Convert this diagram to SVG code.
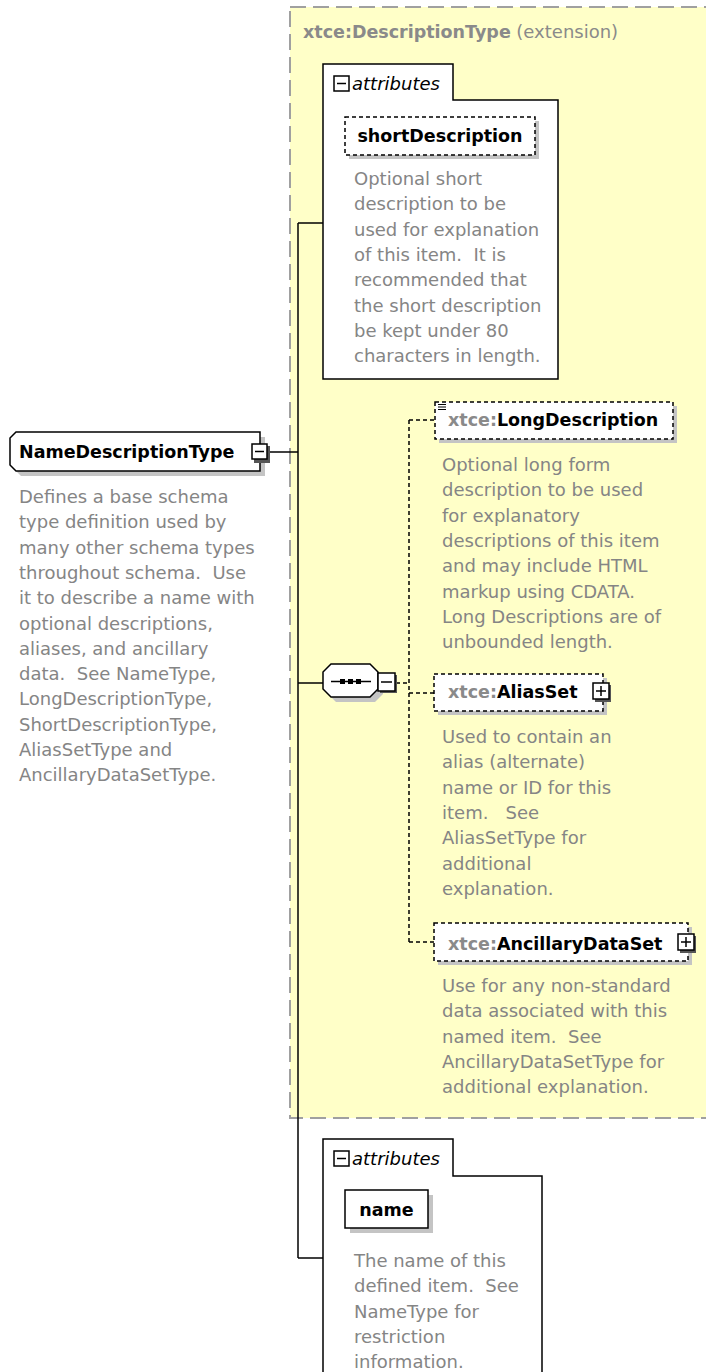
<svg xmlns="http://www.w3.org/2000/svg" width="706" height="1372" viewBox="0 0 706 1372">
  <style>
    .desc { font-family: "DejaVu Sans", Verdana, sans-serif; font-size: 18px; fill: #858585; white-space: pre; }
    .lbl { font-family: "DejaVu Sans", Verdana, sans-serif; font-weight: bold; font-size: 17.5px; fill: #000; }
    .pfx { fill: #8a8a8a; }
    .ttl { font-family: "DejaVu Sans", Verdana, sans-serif; font-size: 17.5px; fill: #8a8a8a; }
    .attr { font-family: "DejaVu Sans", Verdana, sans-serif; font-style: italic; font-size: 18px; fill: #000; }
    .box { fill: #fff; stroke: #000; stroke-width: 1.5; }
    .dbox { fill: #fff; stroke: #000; stroke-width: 1.5; stroke-dasharray: 4 3; }
    .shadow { fill: #c4c4c4; }
    .conn { stroke: #000; stroke-width: 1.5; fill: none; }
    .dconn { stroke: #000; stroke-width: 1.5; fill: none; stroke-dasharray: 4 3; }
    .icon { fill: #fff; stroke: #000; stroke-width: 1.5; }
  </style>
  <defs>
    <g id="minus">
      <rect class="icon" x="0" y="0" width="15" height="15"/>
      <line x1="3" y1="7.5" x2="12" y2="7.5" stroke="#000" stroke-width="1.5"/>
    </g>
    <g id="plus">
      <rect class="icon" x="0" y="0" width="16" height="16"/>
      <line x1="3" y1="8" x2="13" y2="8" stroke="#000" stroke-width="1.5"/>
      <line x1="8" y1="3" x2="8" y2="13" stroke="#000" stroke-width="1.5"/>
    </g>
  </defs>

  <!-- extension region -->
  <g id="extension">
    <rect x="290" y="7" width="440" height="1111" fill="#ffffc8" stroke="#a0a0a0" stroke-width="2" stroke-dasharray="16 7"/>
    <text x="303" y="38" class="ttl"><tspan font-weight="bold">xtce:DescriptionType</tspan> <tspan font-size="18px">(extension)</tspan></text>
  </g>

  <!-- connectors -->
  <g id="connectors">
    <line class="conn" x1="268" y1="452" x2="298" y2="452"/>
    <line class="conn" x1="298" y1="223" x2="298" y2="1258"/>
    <line class="conn" x1="298" y1="223" x2="323" y2="223"/>
    <line class="conn" x1="298" y1="683" x2="323" y2="683"/>
    <line class="conn" x1="298" y1="1258" x2="323" y2="1258"/>
    <line class="dconn" x1="396" y1="683" x2="409" y2="683"/>
    <line class="dconn" x1="409" y1="420" x2="409" y2="942"/>
    <line class="dconn" x1="409" y1="420" x2="435" y2="420"/>
    <line class="dconn" x1="409" y1="693" x2="434" y2="693"/>
    <line class="dconn" x1="409" y1="942" x2="434" y2="942"/>
  </g>

  <!-- NameDescriptionType -->
  <g id="NameDescriptionType">
    <polygon class="shadow" points="21,437 265,437 265,476 21,476 15,470 15,443"/>
    <polygon class="box" points="16,432 260,432 260,471 16,471 10,465 10,438"/>
    <text x="19" y="458" class="lbl">NameDescriptionType</text>
    <rect x="254" y="446" width="16" height="17" fill="#555"/>
    <use href="#minus" x="252" y="444"/>
    <text class="desc" x="19">
      <tspan x="19" y="503">Defines a base schema</tspan>
      <tspan x="19" y="528.3">type definition used by</tspan>
      <tspan x="19" y="553.6">many other schema types</tspan>
      <tspan x="19" y="578.9">throughout schema.  Use</tspan>
      <tspan x="19" y="604.2">it to describe a name with</tspan>
      <tspan x="19" y="629.5">optional descriptions,</tspan>
      <tspan x="19" y="654.8">aliases, and ancillary</tspan>
      <tspan x="19" y="680.1">data.  See NameType,</tspan>
      <tspan x="19" y="705.4">LongDescriptionType,</tspan>
      <tspan x="19" y="730.7">ShortDescriptionType,</tspan>
      <tspan x="19" y="756">AliasSetType and</tspan>
      <tspan x="19" y="781.3">AncillaryDataSetType.</tspan>
    </text>
  </g>

  <!-- attribute group of the extension -->
  <g id="attributes-ext">
    <path class="box" d="M323,64 H453 V100 H558 V379 H323 Z"/>
    <use href="#minus" x="334" y="76"/>
    <text x="352" y="90" class="attr">attributes</text>
  </g>

  <g id="shortDescription">
    <rect class="shadow" x="349" y="121" width="190" height="38"/>
    <rect class="dbox" x="345" y="117" width="190" height="38"/>
    <text x="440" y="142" class="lbl" text-anchor="middle">shortDescription</text>
    <text class="desc">
      <tspan x="354" y="185">Optional short</tspan>
      <tspan x="354" y="210.3">description to be</tspan>
      <tspan x="354" y="235.6">used for explanation</tspan>
      <tspan x="354" y="260.9">of this item.  It is</tspan>
      <tspan x="354" y="286.2">recommended that</tspan>
      <tspan x="354" y="311.5">the short description</tspan>
      <tspan x="354" y="336.8">be kept under 80</tspan>
      <tspan x="354" y="362.1">characters in length.</tspan>
    </text>
  </g>

  <!-- sequence compositor -->
  <g id="sequence">
    <polygon class="shadow" points="336,669 375,669 383,677 383,694 375,702 336,702 328,694 328,677"/>
    <polygon class="box" points="331,664 370,664 378,672 378,689 370,697 331,697 323,689 323,672"/>
    <line x1="331" y1="681.5" x2="371" y2="681.5" stroke="#000" stroke-width="1.5"/>
    <rect x="340" y="679" width="5" height="5" fill="#000"/>
    <rect x="348" y="679" width="5" height="5" fill="#000"/>
    <rect x="356" y="679" width="5" height="5" fill="#000"/>
    <rect x="380" y="675" width="17" height="18" fill="#555"/>
    <rect class="icon" x="378" y="673" width="17" height="18"/>
    <line x1="381" y1="682" x2="392" y2="682" stroke="#000" stroke-width="1.5"/>
  </g>

  <g id="LongDescription">
    <rect class="shadow" x="439" y="406" width="238" height="37"/>
    <rect class="dbox" x="435" y="402" width="238" height="37"/>
    <g stroke="#000" stroke-width="1">
      <line x1="438" y1="404.5" x2="446" y2="404.5"/>
      <line x1="438" y1="407" x2="446" y2="407"/>
      <line x1="438" y1="409.5" x2="446" y2="409.5"/>
    </g>
    <text x="448" y="426" class="lbl"><tspan class="pfx">xtce:</tspan>LongDescription</text>
    <text class="desc">
      <tspan x="442" y="471">Optional long form</tspan>
      <tspan x="442" y="496.3">description to be used</tspan>
      <tspan x="442" y="521.6">for explanatory</tspan>
      <tspan x="442" y="546.9">descriptions of this item</tspan>
      <tspan x="442" y="572.2">and may include HTML</tspan>
      <tspan x="442" y="597.5">markup using CDATA.</tspan>
      <tspan x="442" y="622.8">Long Descriptions are of</tspan>
      <tspan x="442" y="648.1">unbounded length.</tspan>
    </text>
  </g>

  <g id="AliasSet">
    <rect class="shadow" x="438" y="678" width="169" height="37"/>
    <rect class="dbox" x="434" y="674" width="169" height="37"/>
    <text x="448" y="698" class="lbl"><tspan class="pfx">xtce:</tspan>AliasSet</text>
    <rect x="595" y="685" width="16" height="17" fill="#555"/>
    <use href="#plus" x="593" y="683"/>
    <text class="desc">
      <tspan x="442" y="743">Used to contain an</tspan>
      <tspan x="442" y="768.3">alias (alternate)</tspan>
      <tspan x="442" y="793.6">name or ID for this</tspan>
      <tspan x="442" y="818.9">item.   See</tspan>
      <tspan x="442" y="844.2">AliasSetType for</tspan>
      <tspan x="442" y="869.5">additional</tspan>
      <tspan x="442" y="894.8">explanation.</tspan>
    </text>
  </g>

  <g id="AncillaryDataSet">
    <rect class="shadow" x="438" y="927" width="254" height="38"/>
    <rect class="dbox" x="434" y="923" width="254" height="38"/>
    <text x="448" y="950" class="lbl"><tspan class="pfx">xtce:</tspan>AncillaryDataSet</text>
    <rect x="680" y="936" width="16" height="17" fill="#555"/>
    <use href="#plus" x="678" y="934"/>
    <text class="desc">
      <tspan x="442" y="992">Use for any non-standard</tspan>
      <tspan x="442" y="1017.3">data associated with this</tspan>
      <tspan x="442" y="1042.6">named item.  See</tspan>
      <tspan x="442" y="1067.9">AncillaryDataSetType for</tspan>
      <tspan x="442" y="1093.2">additional explanation.</tspan>
    </text>
  </g>

  <!-- attribute group of NameDescriptionType -->
  <g id="attributes-name">
    <path class="box" d="M323,1380 V1139 H453 V1176 H542 V1380"/>
    <use href="#minus" x="334" y="1151"/>
    <text x="352" y="1165" class="attr">attributes</text>
  </g>

  <g id="name">
    <rect class="shadow" x="350" y="1195" width="83" height="38"/>
    <rect class="box" x="345" y="1190" width="83" height="38"/>
    <text x="386.5" y="1216" class="lbl" text-anchor="middle">name</text>
    <text class="desc">
      <tspan x="354" y="1267">The name of this</tspan>
      <tspan x="354" y="1292.3">defined item.  See</tspan>
      <tspan x="354" y="1317.6">NameType for</tspan>
      <tspan x="354" y="1342.9">restriction</tspan>
      <tspan x="354" y="1368.2">information.</tspan>
    </text>
  </g>
</svg>
